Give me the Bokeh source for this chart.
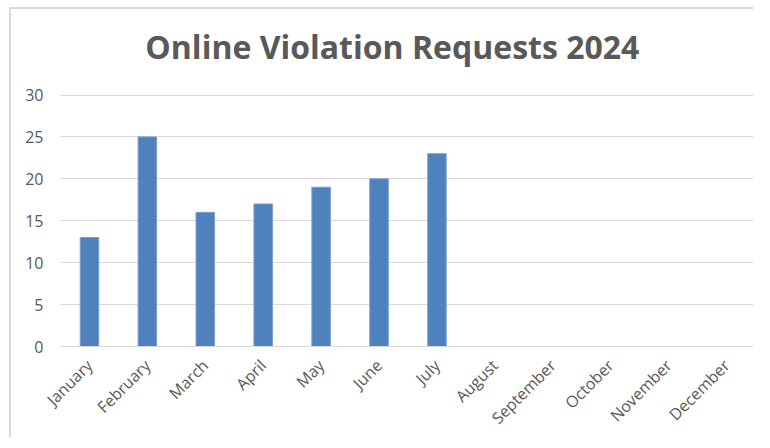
from bokeh.plotting import figure
from bokeh.models import FactorRange, ColumnDataSource, FixedTicker, Label
from bokeh.embed import file_html
from bokeh.resources import INLINE
from math import pi

title_text = "Online Violation Requests 2024"
months = ["January", "February", "March", "April", "May", "June", "July",
          "August", "September", "October", "November", "December"]
requests = [13, 25, 16, 17, 19, 20, 23, 0, 0, 0, 0, 0]
y_ticks = [0, 5, 10, 15, 20, 25, 30]

src = ColumnDataSource(dict(month=months, value=requests))

# y range extends above 30 so the title can sit inside the frame
p = figure(x_range=FactorRange(*months, range_padding=0), y_range=(0, 40.2),
           width=744, height=430, output_backend="svg", toolbar_location=None,
           min_border_left=49, min_border_right=0, min_border_top=0, min_border_bottom=40)
p.styles = {"border-top": "2px solid #d9d9d9", "border-left": "2px solid #d9d9d9",
            "border-right": "0px none transparent", "border-bottom": "0px none transparent",
            "outline": "none", "box-shadow": "none",
            "margin-left": "9px", "margin-top": "7px"}

p.vbar(x="month", top="value", source=src, width=0.32,
       fill_color="#4F81BD", line_color="#7a9fd0", line_width=1)

p.add_layout(Label(x=len(months) / 2 - 0.27, y=35.8, text=title_text,
                   text_align="center", text_baseline="middle",
                   text_font="Open Sans", text_font_style="bold",
                   text_font_size="32px", text_color="#595959"))

p.outline_line_color = None
p.xgrid.grid_line_color = None
p.ygrid.grid_line_color = "#d9d9d9"
p.ygrid.grid_line_width = 1
p.yaxis.ticker = FixedTicker(ticks=y_ticks)
p.yaxis.axis_line_color = None
p.yaxis.major_tick_line_color = None
p.yaxis.minor_tick_line_color = None
p.yaxis.major_label_standoff = 11
p.xaxis.axis_line_color = "#d9d9d9"
p.xaxis.major_tick_line_color = None
p.xaxis.minor_tick_line_color = None
p.xaxis.major_label_orientation = pi / 4
p.xaxis.major_label_standoff = 10
for ax in (p.xaxis, p.yaxis):
    ax.major_label_text_font = "Open Sans"
    ax.major_label_text_color = "#595959"
p.xaxis.major_label_text_font_size = "16px"
p.yaxis.major_label_text_font_size = "16px"

open("out.html", "w").write(file_html(p, INLINE))
